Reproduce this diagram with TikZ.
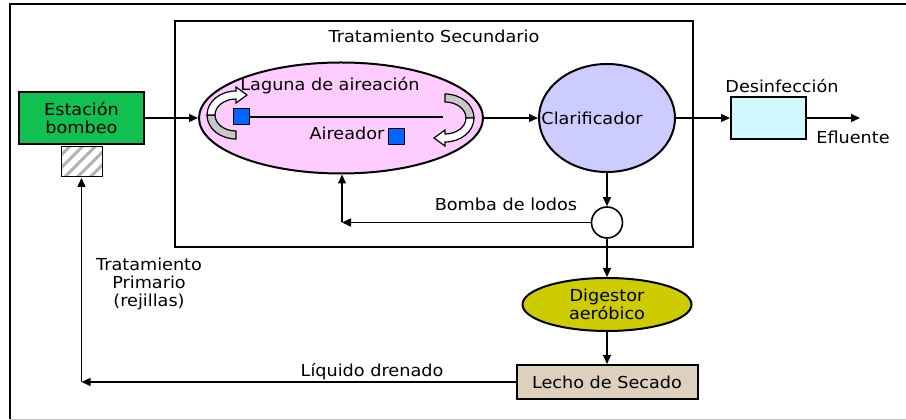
\documentclass[tikz,border=0pt]{standalone}
\usepackage{fontspec}
\setmainfont{DejaVu Sans}[FakeStretch=1.07]
\usetikzlibrary{%
    arrows.meta,
    calc,
    patterns.meta,
    positioning,
    shapes.geometric
}
\definecolor{bombeo}{RGB}{16,192,80}
\definecolor{laguna}{RGB}{255,204,255}
\definecolor{clarif}{RGB}{204,204,255}
\definecolor{desinf}{RGB}{208,248,255}
\definecolor{digestor}{RGB}{204,204,0}
\definecolor{lecho}{RGB}{221,209,190}
\definecolor{aerator}{RGB}{0,102,255}
\definecolor{band}{RGB}{200,200,200}
\tikzset{flow/.style = {line width=1.4pt, -{Triangle[length=9pt,width=8pt]}}}
\tikzset{shaftline/.style = {line width=1.4pt}}
\tikzset{unit/.style = {draw, line width=2pt, align=center, inner sep=0pt}}
\tikzset{tank/.style = {unit, ellipse}}
\tikzset{blower/.style = {draw, line width=1pt, fill=aerator, minimum size=16pt, inner sep=0pt}}
\tikzset{swirl/.pic = {
    \filldraw[fill=band, line width=1.2pt] (0,-24) arc[start angle=270, end angle=180, x radius=29pt, y radius=24pt]
        -- (-21,0) arc[start angle=180, end angle=270, x radius=21pt, y radius=16pt] -- cycle;
    \filldraw[fill=white, line width=1.2pt] (-29,0) arc[start angle=180, end angle=90, x radius=29pt, y radius=24pt]
        -- (0,28) -- (11,20) -- (0,12) -- (0,16)
        arc[start angle=90, end angle=180, x radius=21pt, y radius=16pt] -- cycle;
    }}

\begin{document}
\begin{tikzpicture}[x=1pt, y=1pt, font=\fontsize{16.5}{18}\selectfont]
    \useasboundingbox (0,0) rectangle (906,420);
    % frame
    \draw[line width=2.5pt] (906,416) -- (10,416) -- (10,1);
    \draw[gray!50, line width=1pt] (10,0.5) -- (906,0.5);

    % secondary treatment block
    \node[draw, line width=1.6pt, minimum width=518pt, minimum height=226pt] (secundario) at (434,286) {};
    \node (secundario-title) at (434,384) {Tratamiento Secundario};

    % units
    \node[unit, fill=bombeo, minimum width=125pt, minimum height=52pt] (bombeo) at (81.5,302) {Estación\\bombeo};
    \node[draw, line width=1pt, pattern={Lines[angle=45, distance=9pt, line width=3pt]}, pattern color=gray!60,
          minimum width=41pt, minimum height=30pt] (rejillas) [below=0pt of bombeo] {};
    \node[tank, fill=laguna, minimum width=284pt, minimum height=111pt] (laguna) at (341,302) {};
    \node[tank, fill=clarif, minimum width=136pt, minimum height=108pt] (clarif) at (607,302) {};
    \node[unit, fill=desinf, minimum width=75pt, minimum height=42pt] (desinf) at (768.5,302) {};
    \node[draw, circle, line width=1.6pt, minimum size=31pt, inner sep=0pt, fill=white] (pump) at (607,197.5) {};
    \node[tank, fill=digestor, minimum width=169pt, minimum height=53pt] (digestor) at (607,115.5) {Digestor\\aeróbico};
    \node[unit, fill=lecho, minimum width=181pt, minimum height=34pt] (lecho) at (607,38) {Lecho de Secado};

    % aeration
    \pic at (236,305) {swirl};
    \pic[rotate=180] at (445,302) {swirl};
    \node[blower] (aireador1) at (241,303) {};
    \node[blower] (aireador2) at (396,283) {};
    \coordinate (shaft) at (443,303);

    % texts
    \node (laguna-title) at (330,334) {Laguna de aireación};
    \node (aireador-title) at (347,287) {Aireador};
    \node (clarif-title) at (592,302) {Clarificador};
    \node (desinf-title) at (782,334) {Desinfección};
    \node (efluente-title) at (853,283) {Efluente};
    \node (pump-title) at (506,216) {Bomba de lodos};
    \node[align=center] (primario-title) at (149,136) {Tratamiento\\Primario\\(rejillas)};
    \node (drenado-title) at (372,48) {Líquido drenado};

    % corners and free ends
    \coordinate (efluente) at (860,302);
    \coordinate (recirc) at (342,197.5);
    \coordinate (drain) at (rejillas.south |- lecho.west);

    % edges
    \foreach \Source/\Target in {%
        bombeo/laguna,
        laguna/clarif,
        clarif/desinf,
        desinf/efluente,
        clarif/pump,
        pump/digestor,
        digestor/lecho,
        pump/recirc,
        lecho/drain%
        }
        \draw[flow] (\Source) -- (\Target);
    \draw[flow] (recirc) -- (recirc |- laguna.south);
    \draw[flow] (drain) -- (rejillas.south);
    \draw[shaftline] (aireador1) -- (shaft);
\end{tikzpicture}
\end{document}
